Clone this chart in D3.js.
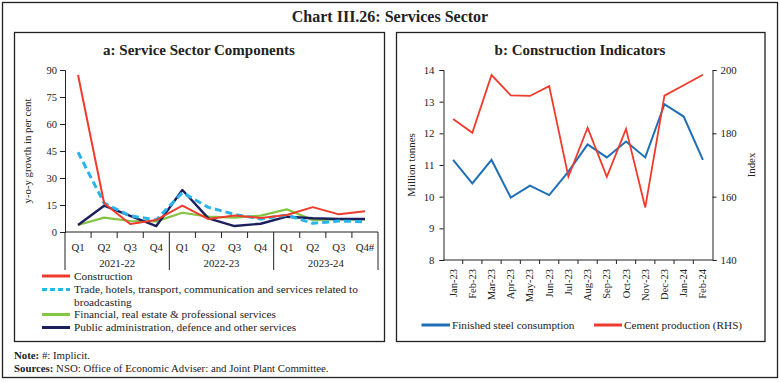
<!DOCTYPE html>
<html><head><meta charset="utf-8">
<script src="https://cdn.jsdelivr.net/npm/d3@7"></script>
<style>
body{margin:0;background:#fff;}
svg text{font-family:"Liberation Serif","DejaVu Serif",serif;fill:#222;}
</style></head>
<body><svg id="c" width="780" height="382"></svg>
<script>
// ---- Data: panel a ----
const quarters = ["Q1","Q2","Q3","Q4","Q1","Q2","Q3","Q4","Q1","Q2","Q3","Q4#"];
const fiscalYears = ["2021-22","2022-23","2023-24"];
const construction = [87.2,16.0,4.4,6.7,14.6,7.2,9.2,7.8,9.4,13.8,9.8,11.5];
const trade = [44.3,16.0,9.0,6.7,21.9,13.7,9.8,7.2,9.4,4.8,6.1,5.7];
const financial = [3.9,8.0,6.1,5.9,10.7,8.5,8.0,9.1,12.6,6.6,7.0,7.0];
const publicAdmin = [3.9,14.6,9.0,3.3,23.3,7.6,3.3,4.6,8.5,7.6,7.2,7.2];
const yTicksA = [0,15,30,45,60,75,90];
const seriesNamesA = ["Construction","Trade, hotels, transport, communication and services related to broadcasting","Financial, real estate & professional services","Public administration, defence and other services"];

// ---- Data: panel b ----
const months = ["Jan-23","Feb-23","Mar-23","Apr-23","May-23","Jun-23","Jul-23","Aug-23","Sep-23","Oct-23","Nov-23","Dec-23","Jan-24","Feb-24"];
const steel = [11.16,10.42,11.16,9.97,10.35,10.05,10.79,11.65,11.24,11.74,11.24,12.92,12.53,11.16];
const cement = [184.5,180.2,198.4,192.0,191.8,194.9,166.3,181.8,166.3,181.4,156.6,191.9,195.2,198.5];
const yTicksBLeft = [8,9,10,11,12,13,14];
const yTicksBRight = [140,160,180,200];
const seriesNamesB = ["Finished steel consumption","Cement production (RHS)"];

const svg = d3.select("#c");
const ink = "#222";

// outer frame & title
svg.append("rect").attr("x",2.5).attr("y",2.5).attr("width",775).attr("height",375).attr("fill","none").attr("stroke",ink).attr("stroke-width",1.3);
svg.append("text").attr("x",390).attr("y",22).attr("text-anchor","middle").attr("font-size",16).attr("font-weight","bold").text("Chart III.26: Services Sector");

// panel boxes
svg.append("rect").attr("x",14.5).attr("y",32.5).attr("width",370).attr("height",309).attr("fill","none").attr("stroke",ink).attr("stroke-width",1.3);
svg.append("rect").attr("x",396.5).attr("y",32.5).attr("width",368.5).attr("height",309).attr("fill","none").attr("stroke",ink).attr("stroke-width",1.3);

// notes
const n1 = svg.append("text").attr("x",14).attr("y",359).attr("font-size",10.8);
n1.append("tspan").attr("font-weight","bold").text("Note:");
n1.append("tspan").text(" #: Implicit.");
const n2 = svg.append("text").attr("x",14).attr("y",371.5).attr("font-size",10.8);
n2.append("tspan").attr("font-weight","bold").text("Sources:");
n2.append("tspan").text(" NSO: Office of Economic Adviser: and Joint Plant Committee.");

// ================= Panel a =================
const ga = svg.append("g");
ga.append("text").attr("x",199).attr("y",55).attr("text-anchor","middle").attr("font-size",15).attr("font-weight","bold").text("a: Service Sector Components");

const xa = d3.scaleBand().domain(d3.range(quarters.length)).range([65,378]);
const ya = d3.scaleLinear().domain([0,90]).range([232,70]);

const yAxA = d3.axisLeft(ya).tickValues(yTicksA).tickFormat(d3.format("d")).tickSize(5).tickPadding(3);
ga.append("g").attr("transform","translate(65,0)").call(yAxA)
  .call(g=>{g.selectAll("text").attr("font-size",10.5).attr("font-family","Liberation Serif").attr("fill",ink);g.selectAll("line,path").attr("stroke",ink);});
ga.append("text").attr("transform","translate(31,151) rotate(-90)").attr("text-anchor","middle").attr("font-size",10.8).text("y-o-y growth in per cent");

// x axis baseline
ga.append("line").attr("x1",65).attr("x2",378).attr("y1",232).attr("y2",232).attr("stroke",ink);
// minor ticks
quarters.forEach((q,i)=>{
  if(i>0 && i%4!==0){
    ga.append("line").attr("x1",xa(i)).attr("x2",xa(i)).attr("y1",232).attr("y2",238).attr("stroke",ink);
  }
  ga.append("text").attr("x",xa(i)+xa.bandwidth()/2).attr("y",251).attr("text-anchor","middle").attr("font-size",10.8).text(q);
});
// major separators
[0,4,8,12].forEach(i=>{
  const x = i<12 ? xa(i) : 378;
  ga.append("line").attr("x1",x).attr("x2",x).attr("y1",232).attr("y2",270).attr("stroke",ink);
});
fiscalYears.forEach((fy,k)=>{
  const x0 = xa(k*4), x1 = k===2?378:xa(k*4+4);
  ga.append("text").attr("x",(x0+x1)/2).attr("y",267).attr("text-anchor","middle").attr("font-size",10.8).text(fy);
});

const lineA = d3.line().x((d,i)=>xa(i)+xa.bandwidth()/2).y(d=>ya(d));
const colA = ["#ef3b2c","#29b5ea","#84c441","#1b1f5c"];
const dataA = [construction,trade,financial,publicAdmin];
const widthA = [2,3,2.2,2.4];
// draw order: green, navy, cyan, red
[2,3,1,0].forEach(k=>{
  ga.append("path").datum(dataA[k]).attr("d",lineA).attr("fill","none").attr("stroke",colA[k])
    .attr("stroke-width",widthA[k]).attr("stroke-dasharray",k===1?"7,4":null).attr("stroke-linejoin","round");
});

// legend a
const legA = [{k:0,y:279.5},{k:1,y:293},{k:2,y:318},{k:3,y:331}];
legA.forEach(o=>{
  ga.append("line").attr("x1",42).attr("x2",70).attr("y1",o.y-3.5).attr("y2",o.y-3.5).attr("stroke",colA[o.k]).attr("stroke-width",3).attr("stroke-dasharray",o.k===1?"5,3":null);
});
const lfs = 11.3;
ga.append("text").attr("x",74).attr("y",279.5).attr("font-size",lfs).text(seriesNamesA[0]);
ga.append("text").attr("x",74).attr("y",293).attr("font-size",lfs).text("Trade, hotels, transport, communication and services related to");
ga.append("text").attr("x",74).attr("y",305.5).attr("font-size",lfs).text("broadcasting");
ga.append("text").attr("x",74).attr("y",318).attr("font-size",lfs).text(seriesNamesA[2]);
ga.append("text").attr("x",74).attr("y",331).attr("font-size",lfs).text(seriesNamesA[3]);

// ================= Panel b =================
const gb = svg.append("g");
gb.append("text").attr("x",580).attr("y",55).attr("text-anchor","middle").attr("font-size",15).attr("font-weight","bold").text("b: Construction Indicators");

const xb = d3.scaleBand().domain(months).range([443.5,712.5]);
const ybL = d3.scaleLinear().domain([8,14]).range([260,70]);
const ybR = d3.scaleLinear().domain([140,200]).range([260,70]);

gb.append("g").attr("transform","translate(443.5,0)").call(d3.axisLeft(ybL).tickValues(yTicksBLeft).tickFormat(d3.format("d")).tickSize(4).tickPadding(5))
  .call(g=>{g.selectAll("text").attr("font-size",10.8).attr("font-family","Liberation Serif").attr("fill",ink);g.selectAll("line,path").attr("stroke",ink);});
gb.append("g").attr("transform","translate(712.5,0)").call(d3.axisRight(ybR).tickValues(yTicksBRight).tickFormat(d3.format("d")).tickSize(4).tickPadding(4))
  .call(g=>{g.selectAll("text").attr("font-size",10.8).attr("font-family","Liberation Serif").attr("fill",ink);g.selectAll("line,path").attr("stroke",ink);});

// x axis with ticks at band edges
gb.append("line").attr("x1",443.5).attr("x2",712.5).attr("y1",260).attr("y2",260).attr("stroke",ink);
months.forEach((m,i)=>{
  const x = xb(m);
  if(i>0) gb.append("line").attr("x1",x).attr("x2",x).attr("y1",260).attr("y2",264).attr("stroke",ink);
  gb.append("text").attr("transform",`translate(${x+xb.bandwidth()/2+3.5},269) rotate(-90)`).attr("text-anchor","end").attr("font-size",10.5).text(m);
});

gb.append("text").attr("transform","translate(415,165) rotate(-90)").attr("text-anchor","middle").attr("font-size",10.8).text("Million tonnes");
gb.append("text").attr("transform","translate(755,165) rotate(-90)").attr("text-anchor","middle").attr("font-size",10.8).text("Index");

const lineSteel = d3.line().x((d,i)=>xb(months[i])+xb.bandwidth()/2).y(d=>ybL(d));
const lineCement = d3.line().x((d,i)=>xb(months[i])+xb.bandwidth()/2).y(d=>ybR(d));
gb.append("path").datum(steel).attr("d",lineSteel).attr("fill","none").attr("stroke","#1f6fb6").attr("stroke-width",2);
gb.append("path").datum(cement).attr("d",lineCement).attr("fill","none").attr("stroke","#ef3b2c").attr("stroke-width",1.8);

// legend b
gb.append("line").attr("x1",421.5).attr("x2",450).attr("y1",325).attr("y2",325).attr("stroke","#1f6fb6").attr("stroke-width",3);
gb.append("text").attr("x",452).attr("y",328.5).attr("font-size",11.2).text(seriesNamesB[0]);
gb.append("line").attr("x1",594).attr("x2",622).attr("y1",325).attr("y2",325).attr("stroke","#ef3b2c").attr("stroke-width",3);
gb.append("text").attr("x",624).attr("y",328.5).attr("font-size",11.2).text(seriesNamesB[1]);
</script></body></html>
